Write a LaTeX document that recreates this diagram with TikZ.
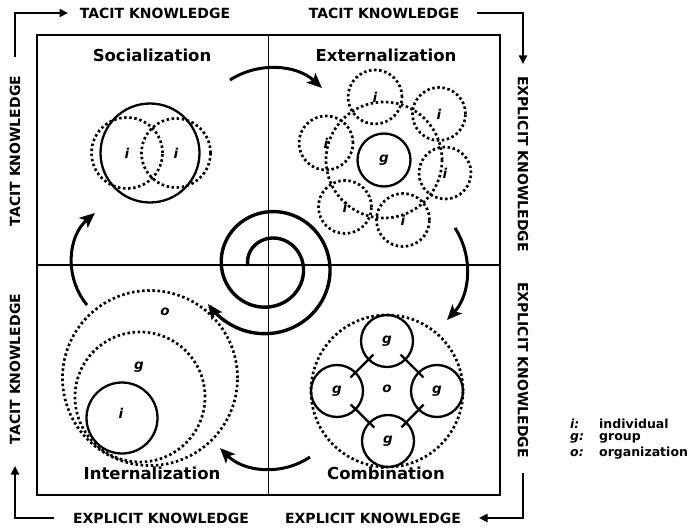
\documentclass[tikz,border=0pt]{standalone}
\usepackage{fontspec}
\setmainfont{DejaVu Sans}
\usetikzlibrary{arrows.meta,calc}
\begin{document}
\begin{tikzpicture}[x=1pt,y=-1pt,
  framebox/.style={draw,line width=2.4pt,inner sep=0pt},
  divider/.style={line width=1.8pt},
  solidc/.style={circle,draw,line width=2.3pt,inner sep=0pt,font=\bfseries\itshape\fontsize{13.5}{13.5}\selectfont},
  dashc/.style={circle,draw,line width=2.7pt,dash pattern=on 2.5pt off 2.6pt,inner sep=0pt,font=\bfseries\itshape\fontsize{13.5}{13.5}\selectfont},
  lett/.style={inner sep=0pt,font=\bfseries\itshape\fontsize{13.5}{13.5}\selectfont},
  qtitle/.style={inner sep=0pt,font=\bfseries\fontsize{16.5}{16.5}\selectfont},
  axislbl/.style={inner sep=0pt,font=\bfseries\fontsize{14}{14}\selectfont},
  legend/.style={inner sep=0pt,anchor=west,font=\bfseries\fontsize{12.5}{12.5}\selectfont},
  cyc/.style={line width=3pt,-{Stealth[length=15pt,width=13pt,inset=3.5pt]}},
  corner/.style={line width=2.6pt,-{Triangle[length=8.5pt,width=8pt]}},
  link/.style={line width=2.3pt,shorten <=-8pt,shorten >=-8pt},
]
\useasboundingbox (0,0) rectangle (698,529);
\fill[white] (0,0) rectangle (698,529);

% frame and quadrants
\node[framebox,minimum width=463pt,minimum height=460pt] (frame) at (268.5,265) {};
\draw[divider] (frame.north) -- (frame.south);
\draw[divider] (frame.west) -- (frame.east);

% quadrant titles
\node[qtitle] (tsoc) at (152,55) {Socialization};
\node[qtitle] (text) at (386,55) {Externalization};
\node[qtitle] (tint) at (152,473) {Internalization};
\node[qtitle] (tcom) at (386,473) {Combination};

% axis labels
\node[axislbl] (top1) at (155,13) {TACIT KNOWLEDGE};
\node[axislbl] (top2) at (384,13) {TACIT KNOWLEDGE};
\node[axislbl] (bot1) at (161,518) {EXPLICIT KNOWLEDGE};
\node[axislbl] (bot2) at (373,518) {EXPLICIT KNOWLEDGE};
\node[axislbl,rotate=90] (lft1) at (15,151) {TACIT KNOWLEDGE};
\node[axislbl,rotate=90] (lft2) at (15,369) {TACIT KNOWLEDGE};
\node[axislbl,rotate=-90] (rgt1) at (523,164) {EXPLICIT KNOWLEDGE};
\node[axislbl,rotate=-90] (rgt2) at (523,370) {EXPLICIT KNOWLEDGE};

% corner arrows
\coordinate (ca1) at (15,57);   \coordinate (ca2) at (68,13);
\coordinate (cb1) at (477,13);  \coordinate (cb2) at (523,64);
\coordinate (cc1) at (523,473); \coordinate (cc2) at (479,518);
\coordinate (cd1) at (54,518);  \coordinate (cd2) at (15,466);
\draw[corner] (ca1) |- (ca2);
\draw[corner] (cb1) -| (cb2);
\draw[corner] (cc1) |- (cc2);
\draw[corner] (cd1) -| (cd2);

% Socialization
\node[solidc,minimum size=99pt] (socg) at (150,153) {};
\node[dashc,minimum size=71pt] (soc1) at (127,153) {i};
\node[dashc,minimum size=69pt] (soc2) at (176,153) {i};

% Externalization
\node[dashc,minimum size=116pt] (exto) at (384,160) {};
\node[solidc,minimum size=53pt] (extg) at (384,160) {g};
\node[dashc,minimum size=54pt] (ext1) at (375,97) {i};
\node[dashc,minimum size=53pt] (ext2) at (439,114) {i};
\node[dashc,minimum size=54pt] (ext3) at (326,143) {i};
\node[dashc,minimum size=52pt] (ext4) at (445,173) {i};
\node[dashc,minimum size=53pt] (ext5) at (345,207) {i};
\node[dashc,minimum size=53pt] (ext6) at (403,220) {i};

% Combination
\node[dashc,minimum size=152pt] (como) at (387,391) {};
\node[lett] (comol) at (387,389) {o};
\node[solidc,minimum size=52pt] (comg1) at (387,341) {g};
\node[solidc,minimum size=52pt] (comg2) at (337,391) {g};
\node[solidc,minimum size=52pt] (comg3) at (437,391) {g};
\node[solidc,minimum size=52pt] (comg4) at (388,441) {g};
\draw[link] (comg1) -- (comg2);
\draw[link] (comg1) -- (comg3);
\draw[link] (comg2) -- (comg4);
\draw[link] (comg3) -- (comg4);

% Internalization
\node[dashc,minimum size=175pt] (into) at (150,378) {};
\node[dashc,minimum size=130pt] (intg) at (140,397) {};
\node[solidc,minimum size=71pt] (inti) at (122,418) {};
\node[lett] (intol) at (165,312) {o};
\node[lett] (intgl) at (139,367) {g};
\node[lett] (intil) at (121,413) {i};

% cycle arrows
\coordinate (ar1s) at (230,80);
\coordinate (ar2s) at (455,228);
\coordinate (ar3s) at (310,457);
\coordinate (ar4s) at (87,305);
\draw[cyc] (ar1s) arc[start angle=-122.8,end angle=-47.2,radius=75.3];
\draw[cyc] (ar2s) arc[start angle=-32.8,end angle=42.7,radius=75.4];
\draw[cyc] (ar3s) arc[start angle=56.1,end angle=135.2,radius=71];
\draw[cyc] (ar4s) arc[start angle=140.5,end angle=229.3,radius=66];

% spiral
\coordinate (spc) at (269,266);
\draw[line width=3.4pt,-{Stealth[length=15pt,width=13pt,inset=3.5pt]}]
  plot[domain=0:688,samples=220,smooth,variable=\t]
  ({269+(21+13.3*\t/180)*cos(180-\t)},{266-(21+13.3*\t/180)*sin(180-\t)});

% legend
\node[legend] (lg1) at (570,424) {\itshape i:};
\node[legend] (lg1t) at (599,424) {individual};
\node[legend] (lg2) at (570,438.5) {\itshape g:};
\node[legend] (lg2t) at (599,438.5) {group};
\node[legend] (lg3) at (570,453) {\itshape o:};
\node[legend] (lg3t) at (599,453) {organization};
\end{tikzpicture}
\end{document}
